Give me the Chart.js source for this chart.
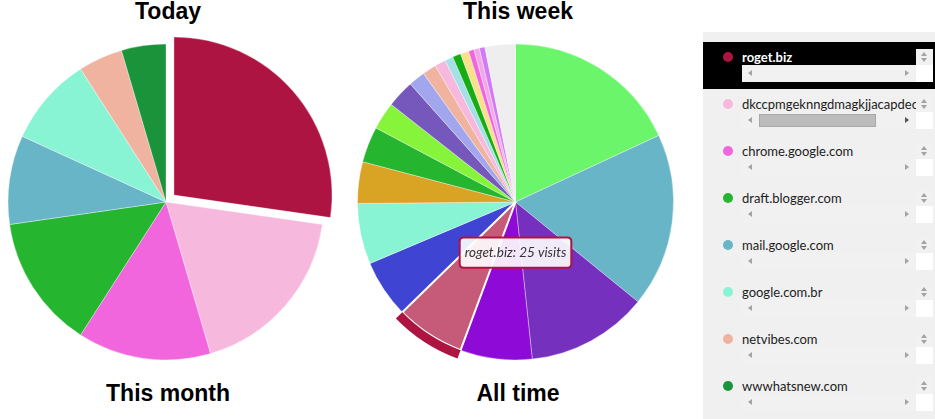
<!DOCTYPE html>
<html>
<head>
<meta charset="utf-8">
<script src="https://cdn.jsdelivr.net/npm/chart.js@4.4.1/dist/chart.umd.min.js"></script>
<style>
  html, body { margin: 0; padding: 0; background: #fff; }
  body { width: 935px; height: 419px; position: relative; overflow: hidden; font-family: Lato, "Open Sans", sans-serif; }
  .title { position: absolute; width: 240px; text-align: center; font: bold 23px/26px "Liberation Sans", Arial, sans-serif; color: #000; }
  canvas { position: absolute; }
  #panel { position: absolute; left: 703px; top: 32px; width: 232px; height: 387px; background: #f0f0f0; padding-top: 10px; box-sizing: border-box; }
  .item { position: relative; height: 47px; }
  .item.sel { background: #000; }
  .dot { position: absolute; left: 20px; top: 10px; width: 10px; height: 10px; border-radius: 50%; }
  .view { position: absolute; left: 39px; top: 7px; width: 174px; height: 16px; overflow: hidden; white-space: nowrap; font-size: 13px; line-height: 16px; color: #222; }
  .item.sel .view { color: #fff; font-weight: bold; }
  .vbar { position: absolute; left: 213px; top: 7px; width: 17px; height: 16px; background: #f1f1f1; }
  .hbar { position: absolute; left: 39px; top: 23px; width: 174px; height: 17px; background: #f1f1f1; }
  .corner { position: absolute; left: 213px; top: 23px; width: 17px; height: 17px; background: #fff; }
  .thumb { position: absolute; top: 2px; height: 11px; background: #bcbcbc; border: 1px solid #a9a9a9; }
  .tri { position: absolute; width: 0; height: 0; }
  .tri.l { left: 6px; top: 5px; border-top: 3.5px solid transparent; border-bottom: 3.5px solid transparent; border-right: 4px solid #a3a3a3; }
  .tri.r { left: 163px; top: 5px; border-top: 3.5px solid transparent; border-bottom: 3.5px solid transparent; border-left: 4px solid #a3a3a3; }
  .tri.u { left: 5px; top: 3px; border-left: 3.5px solid transparent; border-right: 3.5px solid transparent; border-bottom: 4px solid #a3a3a3; }
  .tri.d { left: 5px; top: 9px; border-left: 3.5px solid transparent; border-right: 3.5px solid transparent; border-top: 4px solid #a3a3a3; }
  .tri.r.on { border-left-color: #505050; }
</style>
</head>
<body>
<div class="title" style="left:48px; top:-2px;">Today</div>
<div class="title" style="left:48px; top:380px;">This month</div>
<div class="title" style="left:398px; top:-2px;">This week</div>
<div class="title" style="left:398px; top:380px;">All time</div>

<canvas id="todayChart" width="332" height="344" style="left:0; top:30px;"></canvas>
<canvas id="weekChart" width="341" height="344" style="left:345px; top:30px;"></canvas>

<div id="panel"></div>

<script>
// visits per site, today
const todayLabels = ['roget.biz', 'dkccpmgeknngdmagkjjacapdecnkmh', 'chrome.google.com', 'draft.blogger.com',
    'mail.google.com', 'google.com.br', 'netvibes.com', 'wwwhatsnew.com'];
const todayVisits = [6, 4, 3, 3, 2, 2, 1, 1];
const todayColors = ['#ad1442', '#f7b8dd', '#f266dd', '#25b52f', '#68b5c8', '#88f4d4', '#efb39f', '#1a933a'];

// visits per site, this week
const weekLabels = ['facebook.com', 'mail.google.com', 'twitter.com', 'youtube.com', 'roget.biz', 'github.com',
    'google.com.br', 'stackoverflow.com', 'draft.blogger.com', 'reddit.com', 'news.ycombinator.com', 'wikipedia.org',
    'netvibes.com', 'dkccpmgeknngdmagkjjacapdecnkmh', 'docs.google.com', 'feedly.com', 'translate.google.com',
    'chrome.google.com', 'plus.google.com', 'maps.google.com', 'others'];
const weekVisits = [64, 63, 44, 26, 25, 21, 22, 15, 13, 10, 10, 6, 5, 4, 3, 3, 3, 2, 2, 2, 11];
const weekColors = ['#6bf56a', '#68b5c8', '#7530be', '#8e0ad6', '#ad1442', '#3f45d2', '#88f4d4', '#d9a324',
    '#25b52f', '#86f43a', '#7657bc', '#a2a6ec', '#efb39f', '#f7b8dd', '#a6dfe8', '#14ae14', '#f9e08a',
    '#f266dd', '#f2a8e8', '#d07af5', '#eeeeee'];

const selectedSite = 'roget.biz';

function el(cls, parent) {
    const d = document.createElement('div');
    d.className = cls;
    parent.appendChild(d);
    return d;
}

// the site list on the right, each name in a little scroll box
const panel = document.getElementById('panel');
todayLabels.forEach(function (label, i) {
    const item = el('item' + (label === selectedSite ? ' sel' : ''), panel);
    const dot = el('dot', item);
    dot.style.background = todayColors[i];
    const view = el('view', item);
    view.textContent = label;
    const vbar = el('vbar', item);
    el('tri u', vbar);
    el('tri d', vbar);
    const hbar = el('hbar', item);
    el('tri l', hbar);
    const right = el('tri r', hbar);
    el('corner', item);
    if (view.scrollWidth > view.clientWidth) {
        right.className += ' on';
        const track = 174 - 2 * 17;
        const thumb = el('thumb', hbar);
        thumb.style.left = '17px';
        thumb.style.width = Math.round(track * view.clientWidth / view.scrollWidth) - 2 + 'px';
    }
});

// darker rim on the outside of the hovered slice
const hoverRim = {
    id: 'hoverRim',
    afterDatasetsDraw: (chart) => {
        const { ctx } = chart;
        chart.getActiveElements().forEach((a) => {
            const p = a.element.getProps(['x', 'y', 'startAngle', 'endAngle', 'outerRadius'], true);
            ctx.save();
            ctx.beginPath();
            ctx.arc(p.x, p.y, p.outerRadius + 9, p.startAngle, p.endAngle);
            ctx.arc(p.x, p.y, p.outerRadius, p.endAngle, p.startAngle, true);
            ctx.closePath();
            ctx.fillStyle = chart.data.datasets[a.datasetIndex].backgroundColor[a.index];
            ctx.fill();
            ctx.restore();
        });
    }
};

Chart.Tooltip.positioners.hub = function (items) {
    if (!items.length) {
        return false;
    }
    const arc = items[0].element;
    return { x: arc.x, y: arc.y + arc.outerRadius * 0.32 };
};

const todayChart = new Chart(document.getElementById('todayChart').getContext('2d'), {
    type: 'pie',
    data: {
        labels: todayLabels,
        datasets: [{
            data: todayVisits,
            backgroundColor: todayColors,
            borderColor: 'rgba(255, 255, 255, 0.35)',
            borderWidth: 1,
            radius: 158,
            // chart.js moves an arc by about a quarter of its offset
            offset: (c) => (todayLabels[c.dataIndex] === selectedSite ? 42 : 0),
        }]
    },
    options: {
        responsive: false,
        animation: false,
        events: [],
        plugins: {
            legend: { display: false },
            tooltip: { enabled: false },
        },
    },
});

const weekChart = new Chart(document.getElementById('weekChart').getContext('2d'), {
    type: 'pie',
    data: {
        labels: weekLabels,
        datasets: [{
            data: weekVisits,
            backgroundColor: weekColors,
            hoverBackgroundColor: (c) => (weekLabels[c.dataIndex] === selectedSite ? '#c55b79' : weekColors[c.dataIndex]),
            borderColor: 'rgba(255, 255, 255, 0.35)',
            borderWidth: 1,
            hoverBorderColor: '#ffffff',
            hoverBorderWidth: 2,
            hoverOffset: 0,
            radius: 158,
        }]
    },
    options: {
        responsive: false,
        animation: false,
        events: [],
        plugins: {
            legend: { display: false },
            tooltip: {
                position: 'hub',
                xAlign: 'center',
                yAlign: 'center',
                caretSize: 0,
                backgroundColor: 'rgba(255, 255, 255, 0.9)',
                borderColor: '#ad1442',
                borderWidth: 2,
                cornerRadius: 4,
                padding: { x: 5, y: 7 },
                displayColors: false,
                bodyColor: '#333',
                bodyFont: { family: 'Lato', size: 13.5, style: 'italic' },
                callbacks: {
                    title: () => '',
                    label: (c) => c.label + ': ' + c.parsed + ' visits',
                },
            },
        },
    },
    plugins: [hoverRim],
});

const active = [{ datasetIndex: 0, index: weekLabels.indexOf(selectedSite) }];
weekChart.setActiveElements(active);
weekChart.tooltip.setActiveElements(active, { x: 0, y: 0 });
weekChart.update();
</script>
</body>
</html>
